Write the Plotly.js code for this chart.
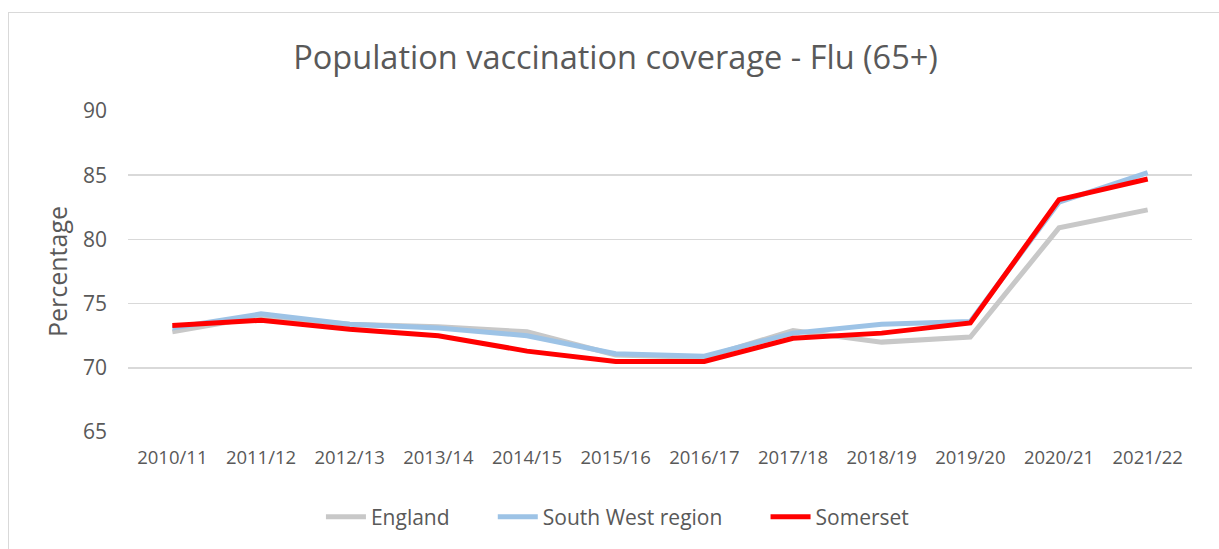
<!DOCTYPE html>
<html>
<head>
<meta charset="utf-8">
<script src="https://cdn.plot.ly/plotly-3.0.1.min.js"></script>
<style>
  html, body { margin: 0; padding: 0; background: #ffffff; width: 1219px; height: 549px; overflow: hidden; }
  #frame { position: absolute; left: 8px; top: 12px; width: 1220px; height: 545px; border: 1px solid #d9d9d9; }
  #chart { position: absolute; left: 0; top: 0; width: 1219px; height: 549px; }
</style>
</head>
<body>
<div id="frame"></div>
<div id="chart"></div>
<script>
const years = ["2010/11","2011/12","2012/13","2013/14","2014/15","2015/16","2016/17","2017/18","2018/19","2019/20","2020/21","2021/22"];
const seriesNames = ["England", "South West region", "Somerset"];
const england = [72.8, 74.0, 73.4, 73.2, 72.8, 71.0, 70.8, 72.9, 72.0, 72.4, 80.9, 82.3];
const southWest = [73.1, 74.2, 73.4, 73.1, 72.5, 71.1, 70.9, 72.7, 73.4, 73.6, 82.9, 85.2];
const somerset = [73.3, 73.7, 73.0, 72.5, 71.3, 70.5, 70.5, 72.3, 72.7, 73.5, 83.1, 84.7];

const font = "Open Sans, Noto Sans, sans-serif";
const txt = "#595959";
const pad = "&nbsp;&nbsp;&nbsp;&nbsp;&nbsp;&nbsp;&nbsp;";

const traces = [
  {x: years, y: england, name: seriesNames[0] + pad, mode: "lines", line: {color: "#c8c8c8", width: 5}},
  {x: years, y: southWest, name: seriesNames[1] + pad, mode: "lines", line: {color: "#9dc3e6", width: 5}},
  {x: years, y: somerset, name: seriesNames[2], mode: "lines", line: {color: "#ff0000", width: 5}}
];

const layout = {
  width: 1219, height: 549,
  paper_bgcolor: "rgba(0,0,0,0)", plot_bgcolor: "#ffffff",
  margin: {l: 128, r: 27, t: 111, b: 114},
  font: {family: font, color: txt},
  title: {text: "Population vaccination coverage - Flu (65+)", font: {size: 32.5, color: txt, family: font}, x: 0.505, xanchor: "center", y: 0.895, yanchor: "middle"},
  xaxis: {type: "category", range: [-0.5, 11.5], showgrid: false, zeroline: false, showline: false, ticks: "", tickfont: {size: 18.5, color: txt}, ticklabelstandoff: 12, fixedrange: true},
  yaxis: {range: [65, 90], dtick: 5, tick0: 65, showgrid: true, gridcolor: "#d9d9d9", gridwidth: 1.5, zeroline: false, showline: false, ticks: "", tickfont: {size: 21, color: txt}, ticklabelstandoff: 20,
          title: {text: "Percentage", font: {size: 25, color: txt}, standoff: 8}, fixedrange: true},
  showlegend: true,
  legend: {orientation: "h", x: 0.46, xanchor: "center", y: -0.265, yanchor: "middle", font: {size: 21, color: txt}, itemwidth: 40, tracegroupgap: 0},
  hovermode: false
};

Plotly.newPlot("chart", traces, layout, {displayModeBar: false, staticPlot: true});
</script>
</body>
</html>
